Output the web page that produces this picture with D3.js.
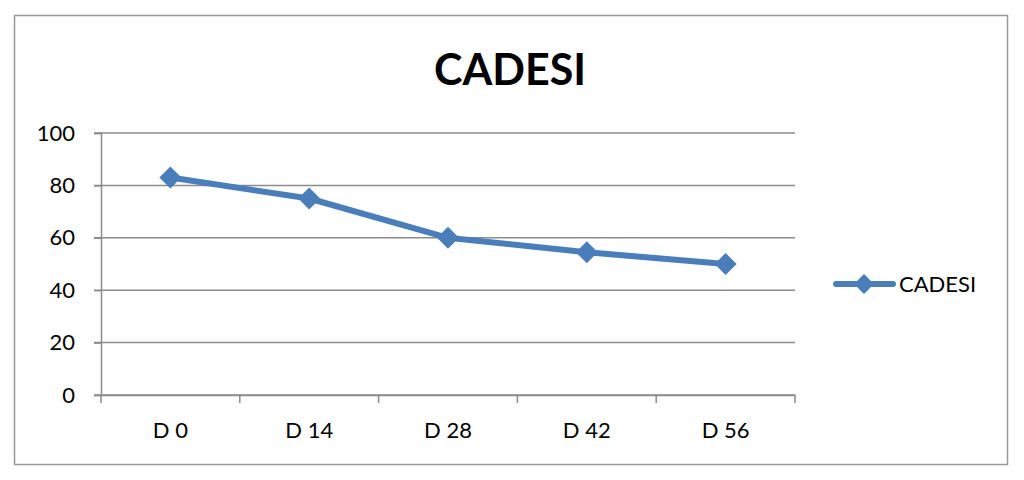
<!DOCTYPE html>
<html><head><meta charset="utf-8">
<script src="https://cdn.jsdelivr.net/npm/d3@7"></script>
<style>body{margin:0;background:#fff;} text{font-family:Lato,"Open Sans",sans-serif;}</style>
</head><body>
<svg id="c" width="1024" height="480"></svg>
<script>
const categories = ["D 0","D 14","D 28","D 42","D 56"];
const values = [83, 75, 60, 54.5, 50];
const yTicks = [0,20,40,60,80,100];
const seriesName = "CADESI";
const title = "CADESI";

const svg = d3.select("#c");
const m = {l:101, r:795, t:133, b:395};
const col = "#4a7ebb", grid = "#8c8c8c";

svg.append("rect").attr("x",14.5).attr("y",15.5).attr("width",993).attr("height",449)
  .attr("fill","#fff").attr("stroke","#999").attr("stroke-width",1.5);

svg.append("text").attr("x",510).attr("y",85).attr("text-anchor","middle")
  .attr("font-size",43).attr("font-weight","bold").attr("fill","#000").text(title);

const x = d3.scaleBand().domain(categories).range([m.l,m.r]);
const y = d3.scaleLinear().domain([0,100]).range([m.b,m.t]);

// gridlines
svg.append("g").selectAll("line").data(yTicks).join("line")
  .attr("x1",94).attr("x2",m.r).attr("y1",d=>y(d)).attr("y2",d=>y(d))
  .attr("stroke",grid).attr("stroke-width",1.5);

// y axis
const ya = svg.append("g").attr("transform",`translate(${m.l},0)`)
  .call(d3.axisLeft(y).tickValues(yTicks).tickSize(7).tickPadding(19));
ya.select(".domain").attr("stroke",grid).attr("stroke-width",1.5);
ya.selectAll(".tick line").attr("stroke",grid).attr("stroke-width",1.5);
ya.selectAll("text").attr("font-size",22).attr("fill","#000").attr("font-family","Lato,'Open Sans',sans-serif");

// x axis
const xa = svg.append("g").attr("transform",`translate(0,${m.b})`)
  .call(d3.axisBottom(x).tickSize(0).tickPadding(27));
xa.select(".domain").attr("stroke",grid).attr("stroke-width",1.5);
xa.selectAll("text").attr("font-size",22).attr("fill","#000").attr("font-family","Lato,'Open Sans',sans-serif");
const bounds = categories.map(c=>x(c)).concat([x(categories[categories.length-1])+x.bandwidth()]);
svg.append("g").selectAll("line").data(bounds).join("line")
  .attr("x1",d=>d).attr("x2",d=>d).attr("y1",m.b).attr("y2",m.b+8)
  .attr("stroke",grid).attr("stroke-width",1.5);

const cx = d => x(d)+x.bandwidth()/2;
const line = d3.line().x((d,i)=>cx(categories[i])).y(d=>y(d));
svg.append("path").datum(values).attr("d",line).attr("fill","none")
  .attr("stroke",col).attr("stroke-width",6).attr("stroke-linejoin","round");

const diamond = (px,py,s) => `M${px},${py-s}L${px+s},${py}L${px},${py+s}L${px-s},${py}Z`;
svg.append("g").selectAll("path").data(values).join("path")
  .attr("d",(d,i)=>diamond(cx(categories[i]),y(d),11)).attr("fill",col);

// legend
svg.append("line").attr("x1",836).attr("x2",893).attr("y1",284).attr("y2",284)
  .attr("stroke",col).attr("stroke-width",6).attr("stroke-linecap","round");
svg.append("path").attr("d",diamond(864,284,10)).attr("fill",col);
svg.append("text").attr("x",899).attr("y",292).attr("font-size",22).attr("fill","#000").text(seriesName);
</script>
</body></html>
